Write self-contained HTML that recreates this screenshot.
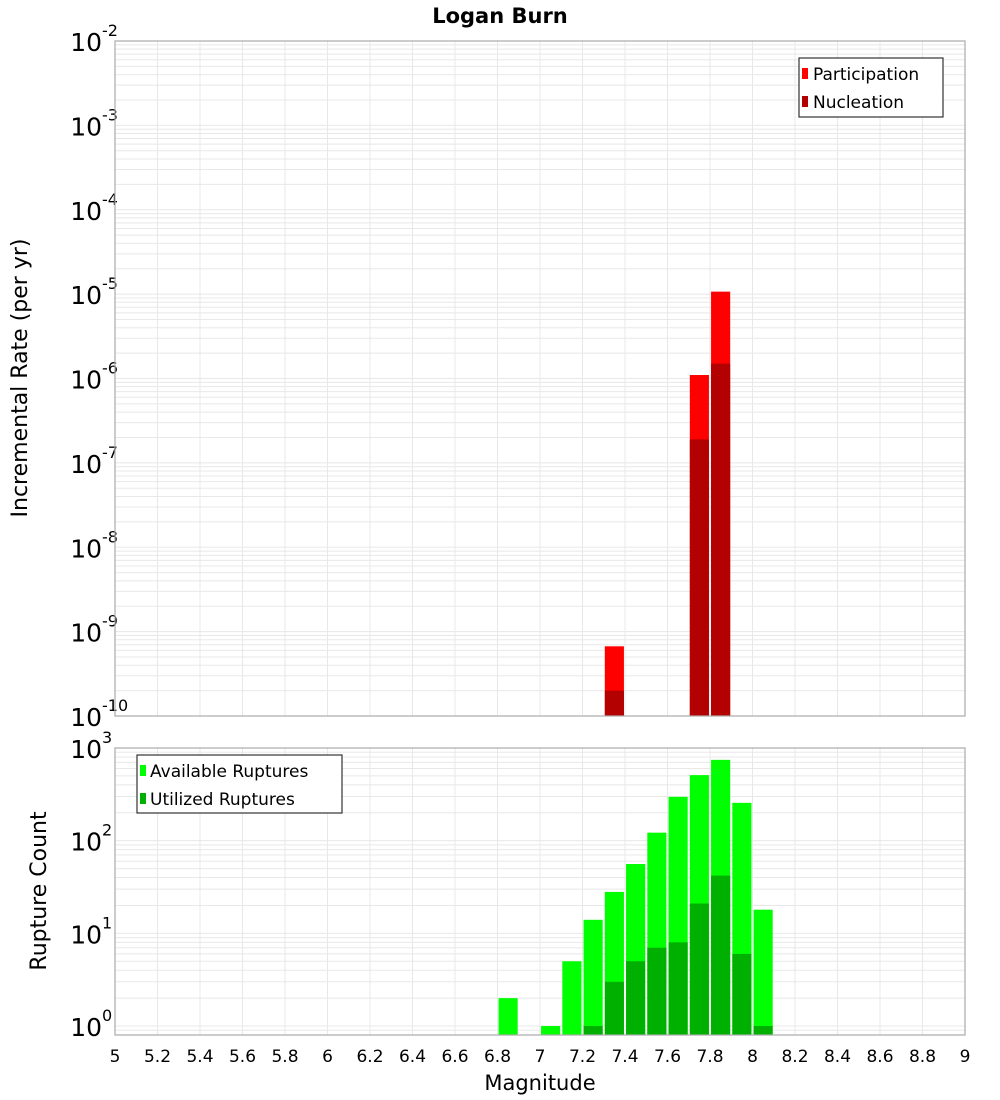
<!DOCTYPE html>
<html><head><meta charset="utf-8"><style>
body{margin:0;background:#fff}
svg{display:block;font-family:"DejaVu Sans","Liberation Sans",sans-serif}
</style></head><body>
<svg id="chart" width="1000" height="1100">
<text x="500" y="23" text-anchor="middle" font-size="21" font-weight="bold">Logan Burn</text>
<g id="top"></g>
<g id="bot"></g>
<text transform="translate(27,378) rotate(-90)" text-anchor="middle" font-size="22">Incremental Rate (per yr)</text>
<text transform="translate(46,891) rotate(-90)" text-anchor="middle" font-size="22">Rupture Count</text>
<text x="540" y="1090" text-anchor="middle" font-size="21">Magnitude</text>
<g>
<rect x="799" y="58" width="144" height="59" fill="#fff" stroke="#333" stroke-width="1.2"/>
<rect x="802" y="68" width="6" height="11" fill="#ff0000"/>
<text x="813" y="80" font-size="17">Participation</text>
<rect x="802" y="96" width="6" height="11" fill="#b30000"/>
<text x="813" y="108" font-size="17">Nucleation</text>
</g>
<g>
<rect x="137" y="755" width="205" height="58" fill="#fff" stroke="#333" stroke-width="1.2"/>
<rect x="140" y="765" width="6" height="11" fill="#00ff00"/>
<text x="150" y="777" font-size="17">Available Ruptures</text>
<rect x="140" y="793" width="6" height="11" fill="#00b000"/>
<text x="150" y="805" font-size="17">Utilized Ruptures</text>
</g>
</svg>
<script>
const NS="http://www.w3.org/2000/svg";
const partMags=[7.35,7.75,7.85];
const partRates=[6.7e-10,1.1e-6,1.07e-5];
const nuclMags=[7.35,7.75,7.85];
const nuclRates=[2.0e-10,1.9e-7,1.5e-6];
const countMags=[6.85,7.05,7.15,7.25,7.35,7.45,7.55,7.65,7.75,7.85,7.95,8.05];
const availCounts=[2,1,5,14,28,56,122,297,510,745,256,18];
const usedMags=[7.25,7.35,7.45,7.55,7.65,7.75,7.85,7.95,8.05];
const usedCounts=[1,3,5,7,8,21,42,6,1];
const xTicks=[5,5.2,5.4,5.6,5.8,6,6.2,6.4,6.6,6.8,7,7.2,7.4,7.6,7.8,8,8.2,8.4,8.6,8.8,9];
const topDecades=[-10,-9,-8,-7,-6,-5,-4,-3,-2];
const botDecades=[0,1,2,3];

const L=115,R=965;
const x=m=>L+(m-5)/4*(R-L);
const TT=41,TB=716,BT=748,BB=1035;
const yTop=v=>TB-(Math.log10(v)+10)/8*(TB-TT);
const bMin=Math.log10(0.8),bMax=3;
const yBot=v=>BB-(Math.log10(v)-bMin)/(bMax-bMin)*(BB-BT);
function el(p,t,a){const e=document.createElementNS(NS,t);for(const k in a)e.setAttribute(k,a[k]);p.appendChild(e);return e;}

function panel(g,top,bot,decs,yf,lo,hi){
  for(let d=lo;d<hi+1;d++){for(let k=1;k<10;k++){const v=k*Math.pow(10,d);const yy=yf(v);if(yy<top-0.5||yy>bot+0.5)continue;
    const ln=el(g,'line',{x1:L,x2:R,y1:yy,y2:yy,stroke:'#e8e8e8','stroke-width':1});
    
    }}
  xTicks.forEach(t=>{const ln=el(g,'line',{x1:x(t),x2:x(t),y1:top,y2:bot,stroke:'#e8e8e8','stroke-width':1});
    
    });
  decs.forEach(d=>{const yy=yf(Math.pow(10,d));
    const t=el(g,'text',{x:102,y:yy+10,'text-anchor':'end','font-size':25});
    
    
    t.textContent='10';
    const s=el(g,'text',{x:102,y:yy-5,'font-size':16});
    
    
    s.textContent=String(d);});
}
const gt=document.getElementById('top'),gb=document.getElementById('bot');
panel(gt,TT,TB,topDecades,yTop,-10,-2);
panel(gb,BT,BB,botDecades,yBot,-1,3);
const bw=x(5.09)-x(5);
function bars(g,mags,vals,yf,base,color,name){
  mags.forEach((m,i)=>{const yy=yf(vals[i]);
    const r=el(g,'rect',{x:x(m)-bw/2,y:yy,width:bw,height:base-yy,fill:color});
    
    });
}
bars(gt,partMags,partRates,yTop,TB,'#ff0000','participation-bar');
bars(gt,nuclMags,nuclRates,yTop,TB,'#b30000','nucleation-bar');
bars(gb,countMags,availCounts,yBot,BB,'#00ff00','available-bar');
bars(gb,usedMags,usedCounts,yBot,BB,'#00b000','utilized-bar');
el(gt,'rect',{x:L,y:TT,width:R-L,height:TB-TT,fill:'none',stroke:'#aaa','stroke-width':1.2});
el(gb,'rect',{x:L,y:BT,width:R-L,height:BB-BT,fill:'none',stroke:'#aaa','stroke-width':1.2});
xTicks.forEach(t=>{const tx=el(gb,'text',{x:x(t),y:1062,'text-anchor':'middle','font-size':17});
  
  
  tx.textContent=String(t);});
</script>
</body></html>
